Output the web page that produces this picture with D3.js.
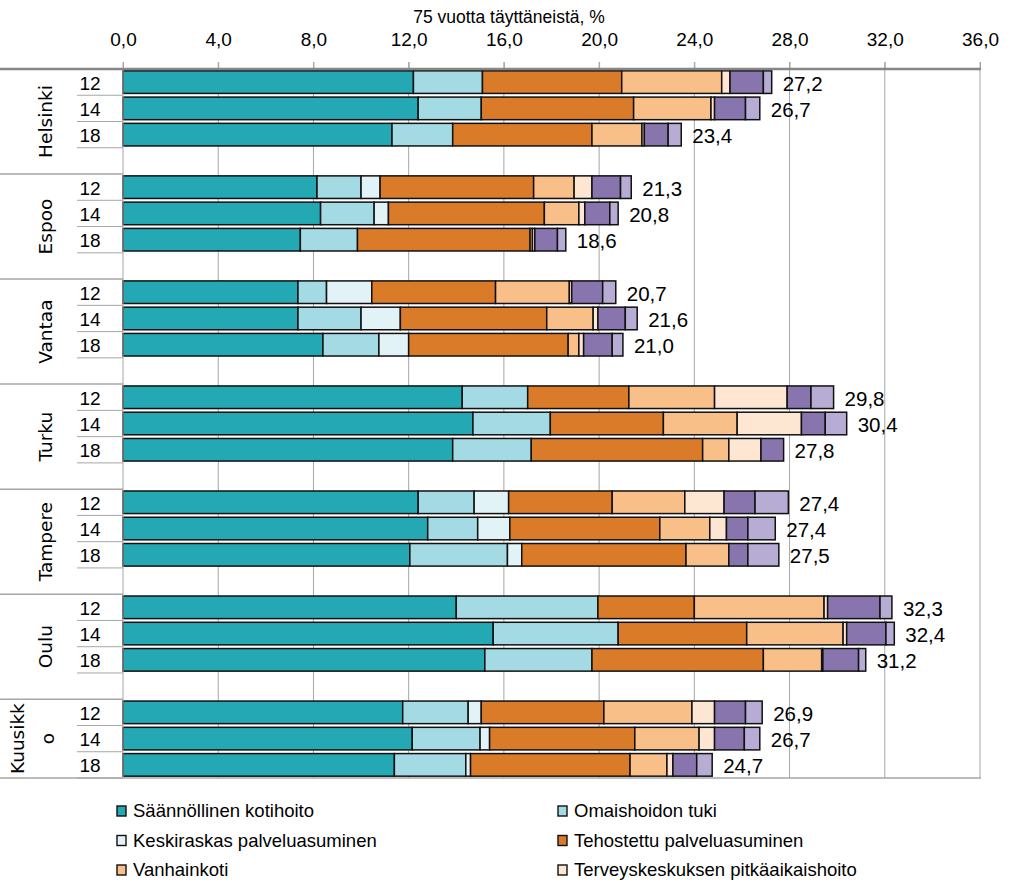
<!DOCTYPE html>
<html>
<head>
<meta charset="utf-8">
<script src="https://cdn.jsdelivr.net/npm/d3@7"></script>
<style>
    body { margin: 0; background: #fff; }
    text { font-family: "Liberation Sans", Arial, sans-serif; fill: #000; }
    .city { font-family: "DejaVu Sans", Verdana, sans-serif; }
</style>
</head>
<body>
<div id="chart"></div>
<script>

// categories
var cities = ["Helsinki", "Espoo", "Vantaa", "Turku", "Tampere", "Oulu", "Kuusikko"];
var years = ["12", "14", "18"];

// series values, one per bar (city by city, years 12/14/18)
var kotihoito    = [12.2, 12.4, 11.3,  8.15, 8.3, 7.45,  7.35, 7.35, 8.4,  14.25, 14.7, 13.85,  12.4, 12.8, 12.05,  14.0, 15.55, 15.2,  11.75, 12.15, 11.4];
var omaishoito   = [2.9, 2.65, 2.55,  1.85, 2.25, 2.4,  1.2, 2.65, 2.35,  2.75, 3.25, 3.3,  2.35, 2.1, 4.1,  5.95, 5.25, 4.5,  2.75, 2.85, 3.0];
var keskiraskas  = [0, 0, 0,  0.8, 0.6, 0,  1.9, 1.65, 1.25,  0, 0, 0,  1.45, 1.35, 0.6,  0, 0, 0,  0.55, 0.4, 0.2];
var tehostettu   = [5.85, 6.4, 5.85,  6.45, 6.55, 7.25,  5.2, 6.15, 6.7,  4.25, 4.75, 7.2,  4.35, 6.3, 6.9,  4.05, 5.4, 7.2,  5.15, 6.1, 6.7];
var vanhainkoti  = [4.2, 3.25, 2.1,  1.7, 1.45, 0.1,  3.1, 1.95, 0.45,  3.6, 3.1, 1.1,  3.05, 2.1, 1.8,  5.45, 4.05, 2.45,  3.7, 2.7, 1.55];
var tkPitka      = [0.35, 0.15, 0.1,  0.75, 0.25, 0.1,  0.1, 0.2, 0.2,  3.05, 2.7, 1.35,  1.65, 0.7, 0,  0.15, 0.15, 0.05,  0.95, 0.65, 0.25];
var sairaala     = [1.4, 1.3, 1.0,  1.2, 1.05, 0.95,  1.3, 1.15, 1.2,  1.0, 1.0, 0.95,  1.3, 0.9, 0.8,  2.2, 1.65, 1.5,  1.3, 1.25, 1.0];
var muut         = [0.35, 0.6, 0.55,  0.45, 0.35, 0.35,  0.55, 0.5, 0.45,  0.95, 0.9, 0,  1.4, 1.15, 1.3,  0.5, 0.35, 0.3,  0.7, 0.65, 0.65];

// total labels printed next to the bars
var totals = [27.2, 26.7, 23.4,  21.3, 20.8, 18.6,  20.7, 21.6, 21.0,  29.8, 30.4, 27.8,  27.4, 27.4, 27.5,  32.3, 32.4, 31.2,  26.9, 26.7, 24.7];

var seriesNames = ["Säännöllinen kotihoito", "Omaishoidon tuki", "Keskiraskas palveluasuminen",
    "Tehostettu palveluasuminen", "Vanhainkoti", "Terveyskeskuksen pitkäaikaishoito",
    "Sairaalan pitkäaikaishoito", "Muu hoito"];
var seriesColors = ["#24a9b4", "#a4dae4", "#e1f3f7", "#d97b29", "#f9bf89", "#fde6d2", "#8975ad", "#b7acd3"];

var xTicks = [0, 4, 8, 12, 16, 20, 24, 28, 32, 36];

(function () {
    var width = 1024, height = 892;
    var pLeft = 123, pRight = 980, pTop = 69, pBottom = 778;

    var svg = d3.select("#chart").append("svg")
        .attr("width", width)
        .attr("height", height);

    var x = d3.scaleLinear()
        .domain([0, 36])
        .range([pLeft, pRight]);

    // 7 groups of 4 slots (3 bars + gap), last gap dropped
    var nSlots = cities.length * 4 - 1;
    var slotH = (pBottom - pTop) / nSlots;
    var barH = slotH * 0.86;

    function slotY(i) {
        return pTop + (Math.floor(i / 3) * 4 + (i % 3)) * slotH;
    }

    var fmt = function (v) { return d3.format(".1f")(v).replace(".", ","); };

    // rows for stacking
    var rows = totals.map(function (t, i) {
        return {
            city: cities[Math.floor(i / 3)], year: years[i % 3],
            s0: kotihoito[i], s1: omaishoito[i], s2: keskiraskas[i], s3: tehostettu[i],
            s4: vanhainkoti[i], s5: tkPitka[i], s6: sairaala[i], s7: muut[i]
        };
    });
    var keys = ["s0", "s1", "s2", "s3", "s4", "s5", "s6", "s7"];
    var stacked = d3.stack().keys(keys)(rows);

    // grid lines
    svg.append("g")
        .selectAll("line")
        .data(xTicks.slice(1))
        .enter().append("line")
        .attr("x1", function (d) { return x(d); })
        .attr("x2", function (d) { return x(d); })
        .attr("y1", pTop - 7)
        .attr("y2", pBottom)
        .attr("stroke", "#a6a6a6")
        .attr("stroke-width", 1);

    // top axis
    var axis = svg.append("g")
        .attr("transform", "translate(0," + pTop + ")")
        .call(d3.axisTop(x).tickValues(xTicks).tickFormat(fmt).tickSize(7).tickPadding(16));
    axis.select(".domain").remove();
    axis.selectAll("line").attr("stroke", "#a6a6a6");
    axis.selectAll("text")
        .style("font-size", "19px")
        .attr("font-family", null)
        .attr("fill", "#000");

    svg.append("text")
        .attr("x", 509)
        .attr("y", 23)
        .attr("text-anchor", "middle")
        .style("font-size", "17.5px")
        .text("75 vuotta täyttäneistä, %");

    // bars
    var layer = svg.append("g")
        .selectAll("g")
        .data(stacked)
        .enter().append("g")
        .attr("fill", function (d, i) { return seriesColors[i]; });

    layer.selectAll("rect")
        .data(function (d) { return d; })
        .enter().append("rect")
        .attr("x", function (d) { return x(d[0]); })
        .attr("width", function (d) { return x(d[1]) - x(d[0]); })
        .attr("y", function (d, i) { return slotY(i) + (slotH - barH) / 2; })
        .attr("height", barH)
        .attr("stroke", "#111")
        .attr("stroke-width", 1.5);

    // total labels
    svg.append("g")
        .selectAll("text")
        .data(totals)
        .enter().append("text")
        .attr("x", function (d, i) { return x(d3.sum(keys, function (k) { return rows[i][k]; })) + 11; })
        .attr("y", function (d, i) { return slotY(i) + slotH / 2 + 1; })
        .attr("dominant-baseline", "central")
        .style("font-size", "20.5px")
        .text(fmt);

    // frame
    svg.append("line")
        .attr("x1", pLeft).attr("x2", pLeft)
        .attr("y1", pTop - 7).attr("y2", pBottom)
        .attr("stroke", "#a6a6a6");
    svg.append("line")
        .attr("x1", 0).attr("x2", pRight + 1)
        .attr("y1", pTop).attr("y2", pTop)
        .attr("stroke", "#868686")
        .attr("stroke-width", 2.5);
    svg.append("line")
        .attr("x1", 0).attr("x2", pRight + 1)
        .attr("y1", pBottom).attr("y2", pBottom)
        .attr("stroke", "#a6a6a6")
        .attr("stroke-width", 1.5);

    // year labels and inner ticks
    svg.append("g")
        .selectAll("text")
        .data(rows)
        .enter().append("text")
        .attr("x", 90)
        .attr("y", function (d, i) { return slotY(i) + slotH / 2 + 1; })
        .attr("text-anchor", "middle")
        .attr("dominant-baseline", "central")
        .style("font-size", "19px")
        .text(function (d) { return d.year; });

    svg.append("g")
        .selectAll("line")
        .data(rows)
        .enter().append("line")
        .attr("x1", 77).attr("x2", pLeft)
        .attr("y1", function (d, i) { return slotY(i) + slotH; })
        .attr("y2", function (d, i) { return slotY(i) + slotH; })
        .attr("stroke", "#a6a6a6");

    // group separators
    svg.append("g")
        .selectAll("line")
        .data(cities.slice(1))
        .enter().append("line")
        .attr("x1", 0).attr("x2", pLeft)
        .attr("y1", function (d, i) { return pTop + (i + 1) * 4 * slotH; })
        .attr("y2", function (d, i) { return pTop + (i + 1) * 4 * slotH; })
        .attr("stroke", "#a6a6a6")
        .attr("stroke-width", 1.5);

    // city labels, rotated; wrapped when too long for the group
    var cityG = svg.append("g")
        .selectAll("g")
        .data(cities)
        .enter().append("g")
        .attr("transform", function (d, i) {
            var h = (i == cities.length - 1) ? 3 * slotH : 4 * slotH;
            return "translate(0," + (pTop + i * 4 * slotH + h / 2) + ") rotate(-90)";
        });

    cityG.each(function (d, i) {
        var g = d3.select(this);
        var avail = ((i == cities.length - 1) ? 3 * slotH : 4 * slotH) - 4;
        var t = g.append("text").attr("class", "city")
            .attr("text-anchor", "middle")
            .attr("dominant-baseline", "central")
            .style("font-size", "18.5px")
            .text(d);
        if (t.node().getComputedTextLength() > avail) {
            // break by characters like the spreadsheet does
            var line1 = d;
            while (line1.length > 1) {
                line1 = line1.slice(0, -1);
                t.text(line1);
                if (t.node().getComputedTextLength() <= avail) break;
            }
            t.text(line1).attr("y", 17);
            g.append("text").attr("class", "city")
                .attr("text-anchor", "middle")
                .attr("dominant-baseline", "central")
                .attr("y", 47)
                .style("font-size", "18.5px")
                .text(d.slice(line1.length));
        } else {
            t.attr("y", 45);
        }
    });

    // legend, two columns; rows that fall below the picture are left out
    var legendItems = seriesNames.map(function (name, i) {
        return { name: name, color: seriesColors[i],
                 x: i % 2 == 0 ? 117 : 558, y: 817 + Math.floor(i / 2) * 29.5 };
    }).filter(function (d) { return d.y < height; });

    var legend = svg.append("g")
        .selectAll("g")
        .data(legendItems)
        .enter().append("g")
        .attr("transform", function (d) { return "translate(" + d.x + "," + d.y + ")"; });

    legend.append("rect")
        .attr("x", 0)
        .attr("y", -11)
        .attr("width", 9)
        .attr("height", 10)
        .attr("fill", function (d) { return d.color; })
        .attr("stroke", "#111")
        .attr("stroke-width", 1.4);

    legend.append("text")
        .attr("x", 16)
        .attr("y", 0)
        .style("font-size", "18.5px")
        .text(function (d) { return d.name; });
})();

</script>
</body>
</html>
